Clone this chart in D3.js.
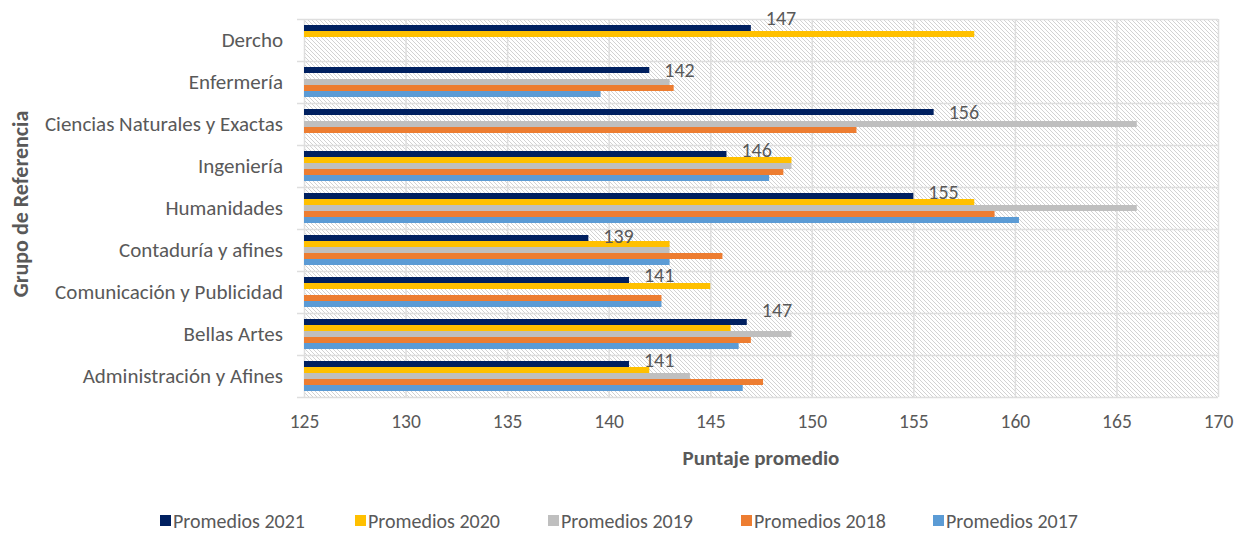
<!DOCTYPE html>
<html>
<head>
<meta charset="utf-8">
<script src="https://cdn.jsdelivr.net/npm/d3@7"></script>
<style>
  body { margin: 0; background: #fff; }
  svg text { font-family: Carlito, Calibri, Lato, sans-serif; fill: #595959; }
</style>
</head>
<body>
<div id="chart"></div>
<script>
// Categories (top to bottom)
var categories = ["Dercho", "Enfermería", "Ciencias Naturales y Exactas", "Ingeniería",
    "Humanidades", "Contaduría y afines", "Comunicación y Publicidad", "Bellas Artes",
    "Administración y Afines"];

// Series, in the order they are stacked inside each group (top to bottom)
var seriesNames = ["Promedios 2021", "Promedios 2020", "Promedios 2019", "Promedios 2018", "Promedios 2017"];
var seriesColors = ["#002060", "#FFC000", "#BFBFBF", "#ED7D31", "#5B9BD5"];

// null = no bar shown
var prom2021 = [147.0, 142.0, 156.0, 145.8, 155.0, 139.0, 141.0, 146.8, 141.0];
var prom2020 = [158.0, null, null, 149.0, 158.0, 143.0, 145.0, 146.0, 142.0];
var prom2019 = [null, 143.0, 166.0, 149.0, 166.0, 143.0, null, 149.0, 144.0];
var prom2018 = [null, 143.2, 152.2, 148.6, 159.0, 145.6, 142.6, 147.0, 147.6];
var prom2017 = [null, 139.6, null, 147.9, 160.2, 143.0, 142.6, 146.4, 146.6];

var xTicks = [125, 130, 135, 140, 145, 150, 155, 160, 165, 170];

// label nudges (px) for the 2021 data labels, as placed in the original
var labelNudge = [-10, 0, 0, -4, -4, -2, -5, -12, -4];

var allSeries = [prom2021, prom2020, prom2019, prom2018, prom2017];

var width = 1241, height = 534;
var margin = {left: 304, right: 23, top: 19, bottom: 137};

var svg = d3.select("#chart").append("svg")
    .attr("width", width)
    .attr("height", height);

// hatched plot background
var defs = svg.append("defs");
var pat = defs.append("pattern")
    .attr("id", "hatch")
    .attr("patternUnits", "userSpaceOnUse")
    .attr("width", 4).attr("height", 4);
pat.append("rect").attr("width", 4).attr("height", 4).attr("fill", "#fff");
[0, 1, 2, 3].forEach(function(i) {
    pat.append("rect").attr("x", i).attr("y", i).attr("width", 1).attr("height", 1).attr("fill", "#d2d2d2");
});

var x = d3.scaleLinear()
    .domain([125, 170])
    .range([margin.left, width - margin.right]);

var y = d3.scaleBand()
    .domain(categories)
    .range([margin.top, height - margin.bottom]);

var barH = 6;
var groupOffset = (y.bandwidth() - barH * allSeries.length) / 2;

svg.append("rect")
    .attr("x", x(125)).attr("y", margin.top)
    .attr("width", x(170) - x(125))
    .attr("height", height - margin.bottom - margin.top)
    .attr("fill", "url(#hatch)");

// vertical gridlines
svg.append("g")
    .selectAll("line")
    .data(xTicks)
    .enter().append("line")
    .attr("x1", function(d) { return x(d) + 0.5; })
    .attr("x2", function(d) { return x(d) + 0.5; })
    .attr("y1", margin.top)
    .attr("y2", height - margin.bottom)
    .attr("stroke", "#dedede")
    .attr("stroke-width", 1.5);

// horizontal gridlines at category boundaries + tick marks
var bounds = categories.map(function(c) { return y(c); });
bounds.push(height - margin.bottom);
svg.append("g")
    .selectAll("line")
    .data(bounds)
    .enter().append("line")
    .attr("x1", x(125) - 7)
    .attr("x2", x(170))
    .attr("y1", function(d) { return Math.round(d) + 0.5; })
    .attr("y2", function(d) { return Math.round(d) + 0.5; })
    .attr("stroke", "#dedede")
    .attr("stroke-width", 1.5);

// bars
allSeries.forEach(function(vals, si) {
    svg.append("g")
        .selectAll("rect")
        .data(vals.map(function(v, i) { return {v: v, cat: categories[i]}; })
            .filter(function(d) { return d.v !== null; }))
        .enter().append("rect")
        .attr("x", x(125))
        .attr("y", function(d) { return y(d.cat) + groupOffset + si * barH; })
        .attr("width", function(d) { return x(d.v) - x(125); })
        .attr("height", barH)
        .attr("fill", seriesColors[si]);
});

// data labels on the 2021 series
svg.append("g")
    .selectAll("text")
    .data(prom2021)
    .enter().append("text")
    .attr("x", function(d) { return x(d) + 15; })
    .attr("y", function(d, i) { return y(categories[i]) + groupOffset + barH / 2 + labelNudge[i]; })
    .attr("dy", "0.35em")
    .style("font-size", "20px")
    .text(function(d) { return d3.format(".0f")(d); });

// category labels
svg.append("g")
    .selectAll("text")
    .data(categories)
    .enter().append("text")
    .attr("x", x(125) - 21)
    .attr("y", function(d) { return y(d) + y.bandwidth() / 2; })
    .attr("dy", "0.35em")
    .attr("text-anchor", "end")
    .style("font-size", "21px")
    .text(function(d) { return d; });

// x tick labels
var xAxis = d3.axisBottom(x).tickValues(xTicks).tickSize(0).tickPadding(17);
var gx = svg.append("g")
    .attr("transform", "translate(0," + (height - margin.bottom) + ")")
    .call(xAxis);
gx.select(".domain").remove();
gx.selectAll("text")
    .style("font-family", "Carlito, Calibri, Lato, sans-serif")
    .style("font-size", "19.5px")
    .attr("fill", "#595959");

// axis titles
svg.append("text")
    .attr("x", (x(125) + x(170)) / 2)
    .attr("y", 458)
    .attr("dy", "0.35em")
    .attr("text-anchor", "middle")
    .style("font-size", "21px")
    .style("font-weight", "bold")
    .text("Puntaje promedio");

svg.append("text")
    .attr("transform", "translate(20,204) rotate(-90)")
    .attr("dy", "0.35em")
    .attr("text-anchor", "middle")
    .style("font-size", "22px")
    .style("font-weight", "bold")
    .text("Grupo de Referencia");

// legend
var legendX = [160, 355, 548, 741, 933];
var legend = svg.append("g")
    .selectAll("g")
    .data(seriesNames)
    .enter().append("g")
    .attr("transform", function(d, i) { return "translate(" + legendX[i] + ",521)"; });
legend.append("rect")
    .attr("x", 0).attr("y", -6)
    .attr("width", 11).attr("height", 11)
    .attr("fill", function(d, i) { return seriesColors[i]; });
legend.append("text")
    .attr("x", 13)
    .attr("dy", "0.35em")
    .style("font-size", "20px")
    .text(function(d) { return d; });
</script>
</body>
</html>
